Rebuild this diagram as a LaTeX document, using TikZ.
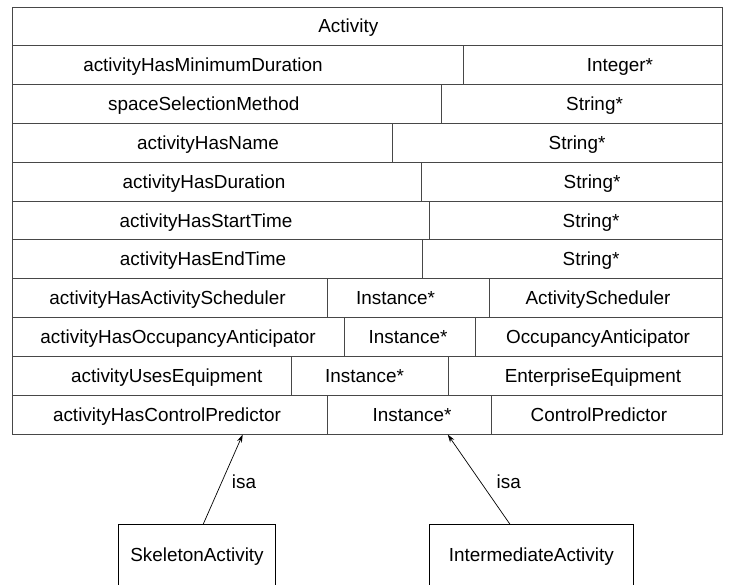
\documentclass[tikz,border=0pt]{standalone}
\usepackage{fontspec}
\setmainfont{Liberation Sans}
\usetikzlibrary{arrows.meta}
\begin{document}
\begin{tikzpicture}[x=1pt,y=-1pt,
  gridline/.style={draw=black!72, line width=0.9pt},
  lbl/.style={inner sep=0pt, anchor=base, font=\fontsize{18.9}{22}\selectfont},
  clsbox/.style={draw=black, line width=0.9pt, inner sep=0pt, text height=13.3pt, text depth=3.9pt, font=\fontsize{18.9}{22}\selectfont},
  isaarrow/.style={draw=black, line width=0.7pt, -{Stealth[length=8pt,width=5pt]}},
  isalbl/.style={inner sep=0pt, anchor=base, font=\fontsize{18.9}{22}\selectfont}]
\useasboundingbox (0,0) rectangle (730,584);
\clip (0,0) rectangle (730,584);
% outer class box
\node[gridline, minimum width=710pt, minimum height=427pt, anchor=north west, inner sep=0pt] (act) at (12,7) {};
% horizontal row dividers
\foreach \k in {1,...,10}{
  \draw[gridline] (12,{7+38.82*\k}) -- (722,{7+38.82*\k});
}
% vertical dividers
\draw[gridline] (463.3,45.8) -- (463.3,84.6);
\draw[gridline] (441.7,84.6) -- (441.7,123.5);
\draw[gridline] (392.7,123.5) -- (392.7,162.3);
\draw[gridline] (421.7,162.3) -- (421.7,201.1);
\draw[gridline] (429,201.1) -- (429,239.9);
\draw[gridline] (422.3,239.9) -- (422.3,278.7);
\draw[gridline] (327.7,278.7) -- (327.7,317.6);
\draw[gridline] (489,278.7) -- (489,317.6);
\draw[gridline] (344,317.6) -- (344,356.4);
\draw[gridline] (475.3,317.6) -- (475.3,356.4);
\draw[gridline] (291,356.4) -- (291,395.2);
\draw[gridline] (448.3,356.4) -- (448.3,395.2);
\draw[gridline] (327.7,395.2) -- (327.7,434);
\draw[gridline] (491,395.2) -- (491,434);
% texts
\node[lbl] (title) at (348.3,32.9) {Activity};
\node[lbl] (p1) at (203,71.7) {activityHasMinimumDuration};
\node[lbl] (t1) at (620,71.7) {Integer*};
\node[lbl] (p2) at (203.7,110.5) {spaceSelectionMethod};
\node[lbl] (t2) at (594.5,110.5) {String*};
\node[lbl] (p3) at (208,149.4) {activityHasName};
\node[lbl] (t3) at (577,149.4) {String*};
\node[lbl] (p4) at (204,188.2) {activityHasDuration};
\node[lbl] (t4) at (592,188.2) {String*};
\node[lbl] (p5) at (206,227.0) {activityHasStartTime};
\node[lbl] (t5) at (591,227.0) {String*};
\node[lbl] (p6) at (203,265.8) {activityHasEndTime};
\node[lbl] (t6) at (591,265.8) {String*};
\node[lbl] (p7) at (167.5,304.6) {activityHasActivityScheduler};
\node[lbl] (i7) at (395.5,304.6) {Instance*};
\node[lbl] (c7) at (598,304.6) {ActivityScheduler};
\node[lbl] (p8) at (178,343.5) {activityHasOccupancyAnticipator};
\node[lbl] (i8) at (408,343.5) {Instance*};
\node[lbl] (c8) at (598,343.5) {OccupancyAnticipator};
\node[lbl] (p9) at (166.7,382.3) {activityUsesEquipment};
\node[lbl] (i9) at (364.5,382.3) {Instance*};
\node[lbl] (c9) at (593,382.3) {EnterpriseEquipment};
\node[lbl] (p10) at (167,421.1) {activityHasControlPredictor};
\node[lbl] (i10) at (412,421.1) {Instance*};
\node[lbl] (c10) at (599,421.1) {ControlPredictor};
% subclasses
\node[clsbox, minimum width=157.4pt, minimum height=64.6pt] (sk) at (197,556.3) {SkeletonActivity};
\node[clsbox, minimum width=204pt, minimum height=64.6pt] (im) at (531.3,556.6) {IntermediateActivity};
% arrow endpoints
\coordinate (sks) at (203.3,524);
\coordinate (skt) at (242.7,434.5);
\coordinate (ims) at (510,524.3);
\coordinate (imt) at (447.7,434.5);
\draw[isaarrow] (sks) -- (skt);
\draw[isaarrow] (ims) -- (imt);
\node[isalbl] (isa1) at (244,488) {isa};
\node[isalbl] (isa2) at (508.7,488) {isa};
\end{tikzpicture}
\end{document}
